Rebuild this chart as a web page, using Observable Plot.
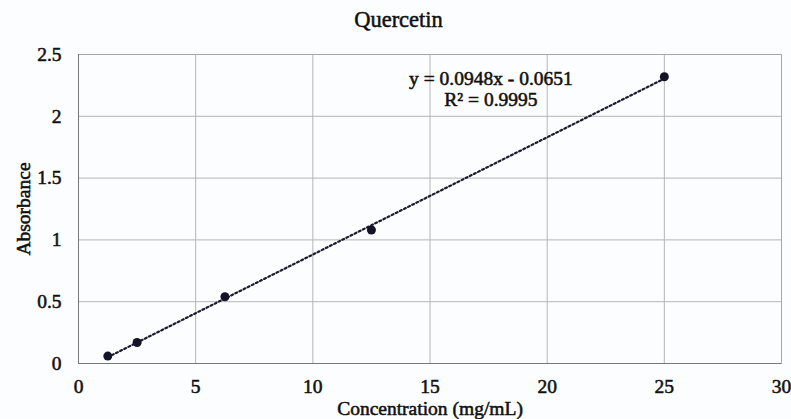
<!DOCTYPE html>
<html>
<head>
<meta charset="utf-8">
<script src="https://cdn.jsdelivr.net/npm/d3@7"></script>
<script src="https://cdn.jsdelivr.net/npm/@observablehq/plot@0.6"></script>
<style>
  html, body { margin: 0; padding: 0; background: #fcfdfe; }
  #wrap { width: 791px; height: 419px; position: relative; font-family: "Liberation Serif", "DejaVu Serif", serif; }
  #title { height: 36px; line-height: 40px; text-align: center; font-size: 22.5px; color: #111; padding-left: 6px; -webkit-text-stroke: 0.5px #111; }
  #chart svg text { stroke: #111; stroke-width: 0.55px; }
</style>
</head>
<body>
<div id="wrap">
  <div id="title">Quercetin</div>
  <div id="chart"></div>
</div>
<script>
const concentration = [1.25, 2.5, 6.25, 12.5, 25];
const absorbance = [0.06, 0.17, 0.54, 1.08, 2.32];
const xTicks = [0, 5, 10, 15, 20, 25, 30];
const yTicks = [0, 0.5, 1, 1.5, 2, 2.5];
const equationLines = ["y = 0.0948x - 0.0651", "R² = 0.9995"];
const equationX = [17.6, 17.6];
const equationY = [2.30, 2.13];

const data = concentration.map((c, i) => ({x: c, y: absorbance[i]}));
const labels = equationLines.map((t, i) => ({t, x: equationX[i], y: equationY[i]}));

const chart = Plot.plot({
  width: 791,
  height: 383,
  marginLeft: 78,
  marginRight: 10,
  marginTop: 18,
  marginBottom: 56,
  style: {fontFamily: "'Liberation Serif', serif", fontSize: "19.5px", color: "#111", background: "transparent"},
  x: {domain: [0, 30], ticks: xTicks, tickFormat: d => `${d}`, tickSize: 0, tickPadding: 16, label: "Concentration (mg/mL)", labelAnchor: "center", labelArrow: "none", labelOffset: 51},
  y: {domain: [0, 2.5], ticks: yTicks, tickFormat: d => `${d}`, tickSize: 0, tickPadding: 17, label: "Absorbance", labelAnchor: "center", labelArrow: "none", labelOffset: 62},
  marks: [
    Plot.gridX(xTicks, {stroke: "#b5b5b5", strokeOpacity: 1, strokeWidth: 1}),
    Plot.gridY(yTicks, {stroke: "#b5b5b5", strokeOpacity: 1, strokeWidth: 1}),
    Plot.frame({stroke: "#a8a8a8"}),
    Plot.ruleX([0], {stroke: "#777"}),
    Plot.ruleY([0], {stroke: "#777"}),
    Plot.linearRegressionY(data, {x: "x", y: "y", ci: 0, stroke: "#1b1b33", strokeWidth: 2.2, strokeDasharray: "2,2.6"}),
    Plot.dot(data, {x: "x", y: "y", r: 4.5, fill: "#141428", stroke: "none"}),
    Plot.text(labels, {x: "x", y: "y", text: "t", fontSize: 19.5, fill: "#111"})
  ]
});
document.getElementById("chart").appendChild(chart);
</script>
</body>
</html>
